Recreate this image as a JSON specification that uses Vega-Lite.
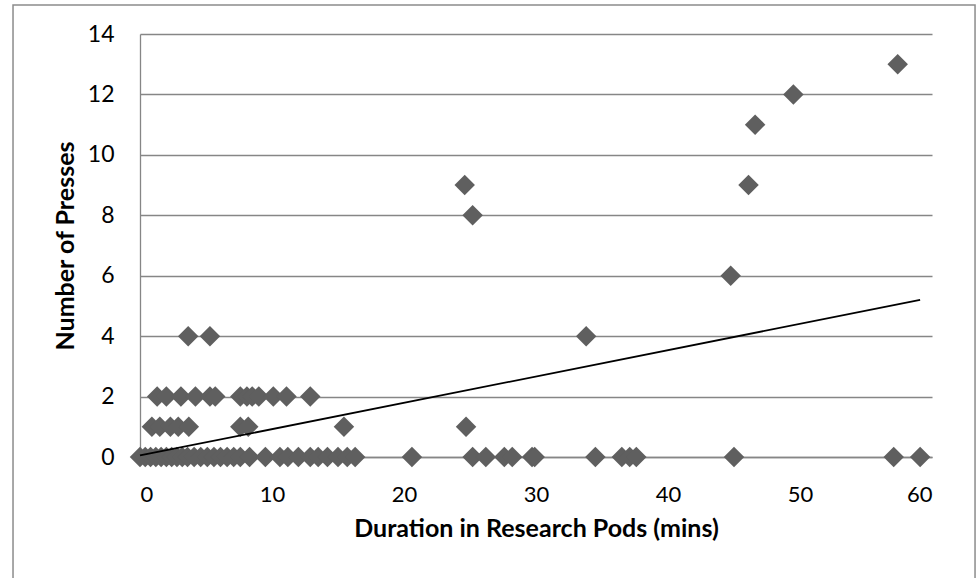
{
  "$schema": "https://vega.github.io/schema/vega-lite/v6.json",
  "width": 792,
  "height": 423,
  "autosize": "none",
  "padding": {"left": 140, "top": 34, "right": 44, "bottom": 121},
  "background": "white",
  "config": {
    "view": {"stroke": null},
    "font": "Lato",
    "axis": {"labelFont": "Lato", "titleFont": "Lato", "labelColor": "#000000", "titleColor": "#000000"}
  },
  "datasets": {
    "points": [
      {"duration": 0.0, "presses": 0}, {"duration": 0.4, "presses": 0}, {"duration": 0.8, "presses": 0},
      {"duration": 1.2, "presses": 0}, {"duration": 1.6, "presses": 0}, {"duration": 2.0, "presses": 0},
      {"duration": 2.4, "presses": 0}, {"duration": 2.8, "presses": 0}, {"duration": 3.2, "presses": 0},
      {"duration": 3.6, "presses": 0}, {"duration": 4.1, "presses": 0}, {"duration": 4.6, "presses": 0},
      {"duration": 5.1, "presses": 0}, {"duration": 5.6, "presses": 0}, {"duration": 6.1, "presses": 0},
      {"duration": 6.6, "presses": 0}, {"duration": 7.1, "presses": 0}, {"duration": 7.6, "presses": 0},
      {"duration": 8.3, "presses": 0}, {"duration": 9.5, "presses": 0}, {"duration": 10.6, "presses": 0},
      {"duration": 11.2, "presses": 0}, {"duration": 12.0, "presses": 0}, {"duration": 12.9, "presses": 0},
      {"duration": 13.5, "presses": 0}, {"duration": 14.2, "presses": 0}, {"duration": 15.0, "presses": 0},
      {"duration": 15.7, "presses": 0}, {"duration": 16.3, "presses": 0}, {"duration": 20.6, "presses": 0},
      {"duration": 25.2, "presses": 0}, {"duration": 26.2, "presses": 0}, {"duration": 27.6, "presses": 0},
      {"duration": 28.2, "presses": 0}, {"duration": 29.7, "presses": 0}, {"duration": 29.9, "presses": 0},
      {"duration": 34.5, "presses": 0}, {"duration": 36.5, "presses": 0}, {"duration": 37.1, "presses": 0},
      {"duration": 37.6, "presses": 0}, {"duration": 45.0, "presses": 0}, {"duration": 57.1, "presses": 0},
      {"duration": 59.1, "presses": 0},
      {"duration": 0.9, "presses": 1}, {"duration": 1.5, "presses": 1}, {"duration": 2.3, "presses": 1},
      {"duration": 2.9, "presses": 1}, {"duration": 3.7, "presses": 1}, {"duration": 7.6, "presses": 1},
      {"duration": 8.2, "presses": 1}, {"duration": 15.45, "presses": 1}, {"duration": 24.7, "presses": 1},
      {"duration": 1.3, "presses": 2}, {"duration": 2.0, "presses": 2}, {"duration": 3.1, "presses": 2},
      {"duration": 4.2, "presses": 2}, {"duration": 5.3, "presses": 2}, {"duration": 5.7, "presses": 2},
      {"duration": 7.6, "presses": 2}, {"duration": 8.1, "presses": 2}, {"duration": 8.5, "presses": 2},
      {"duration": 9.0, "presses": 2}, {"duration": 10.1, "presses": 2}, {"duration": 11.1, "presses": 2},
      {"duration": 12.9, "presses": 2},
      {"duration": 3.65, "presses": 4}, {"duration": 5.3, "presses": 4},
      {"duration": 24.6, "presses": 9}, {"duration": 25.2, "presses": 8}, {"duration": 33.8, "presses": 4},
      {"duration": 44.75, "presses": 6}, {"duration": 46.1, "presses": 9}, {"duration": 46.6, "presses": 11},
      {"duration": 49.5, "presses": 12}, {"duration": 57.4, "presses": 13}
    ],
    "trend": [
      {"duration": 0, "presses": 0.05},
      {"duration": 59.1, "presses": 5.2}
    ]
  },
  "layer": [
    {
      "data": {"values": [{"frame": 1}]},
      "mark": {"type": "rect", "fill": null, "stroke": "#8c8c8c", "strokeWidth": 1.5},
      "encoding": {
        "x": {"datum": -9.62, "type": "quantitative", "scale": {"domain": [0, 60], "nice": false}},
        "x2": {"datum": 63.26},
        "y": {"datum": 14.96, "type": "quantitative", "scale": {"domain": [0, 14], "nice": false}},
        "y2": {"datum": -4.6}
      }
    },
    {
      "data": {"name": "points"},
      "mark": {"type": "point", "shape": "diamond", "filled": true, "size": 420, "color": "#5f5f5f", "opacity": 1},
      "encoding": {
        "x": {
          "field": "duration", "type": "quantitative",
          "scale": {"domain": [0, 60], "nice": false},
          "axis": {
            "title": "Duration in Research Pods (mins)",
            "values": [0, 10, 20, 30, 40, 50, 60],
            "grid": false, "ticks": false,
            "domain": true, "domainColor": "#868686", "domainWidth": 1.3,
            "labelFontSize": 22, "labelPadding": 27,
            "titleFontSize": 25, "titleFontWeight": "bold", "titlePadding": 11
          }
        },
        "y": {
          "field": "presses", "type": "quantitative",
          "scale": {"domain": [0, 14], "nice": false},
          "axis": {
            "title": "Number of Presses",
            "values": [0, 2, 4, 6, 8, 10, 12, 14],
            "grid": true, "gridColor": "#868686", "gridWidth": 1.3, "gridOpacity": 1,
            "ticks": false,
            "domain": true, "domainColor": "#868686", "domainWidth": 1.3,
            "labelFontSize": 23, "labelPadding": 26,
            "titleFontSize": 25, "titleFontWeight": "bold", "titlePadding": 9
          }
        }
      }
    },
    {
      "data": {"name": "trend"},
      "mark": {"type": "line", "color": "#000000", "strokeWidth": 1.8},
      "encoding": {
        "x": {"field": "duration", "type": "quantitative"},
        "y": {"field": "presses", "type": "quantitative"}
      }
    }
  ]
}
